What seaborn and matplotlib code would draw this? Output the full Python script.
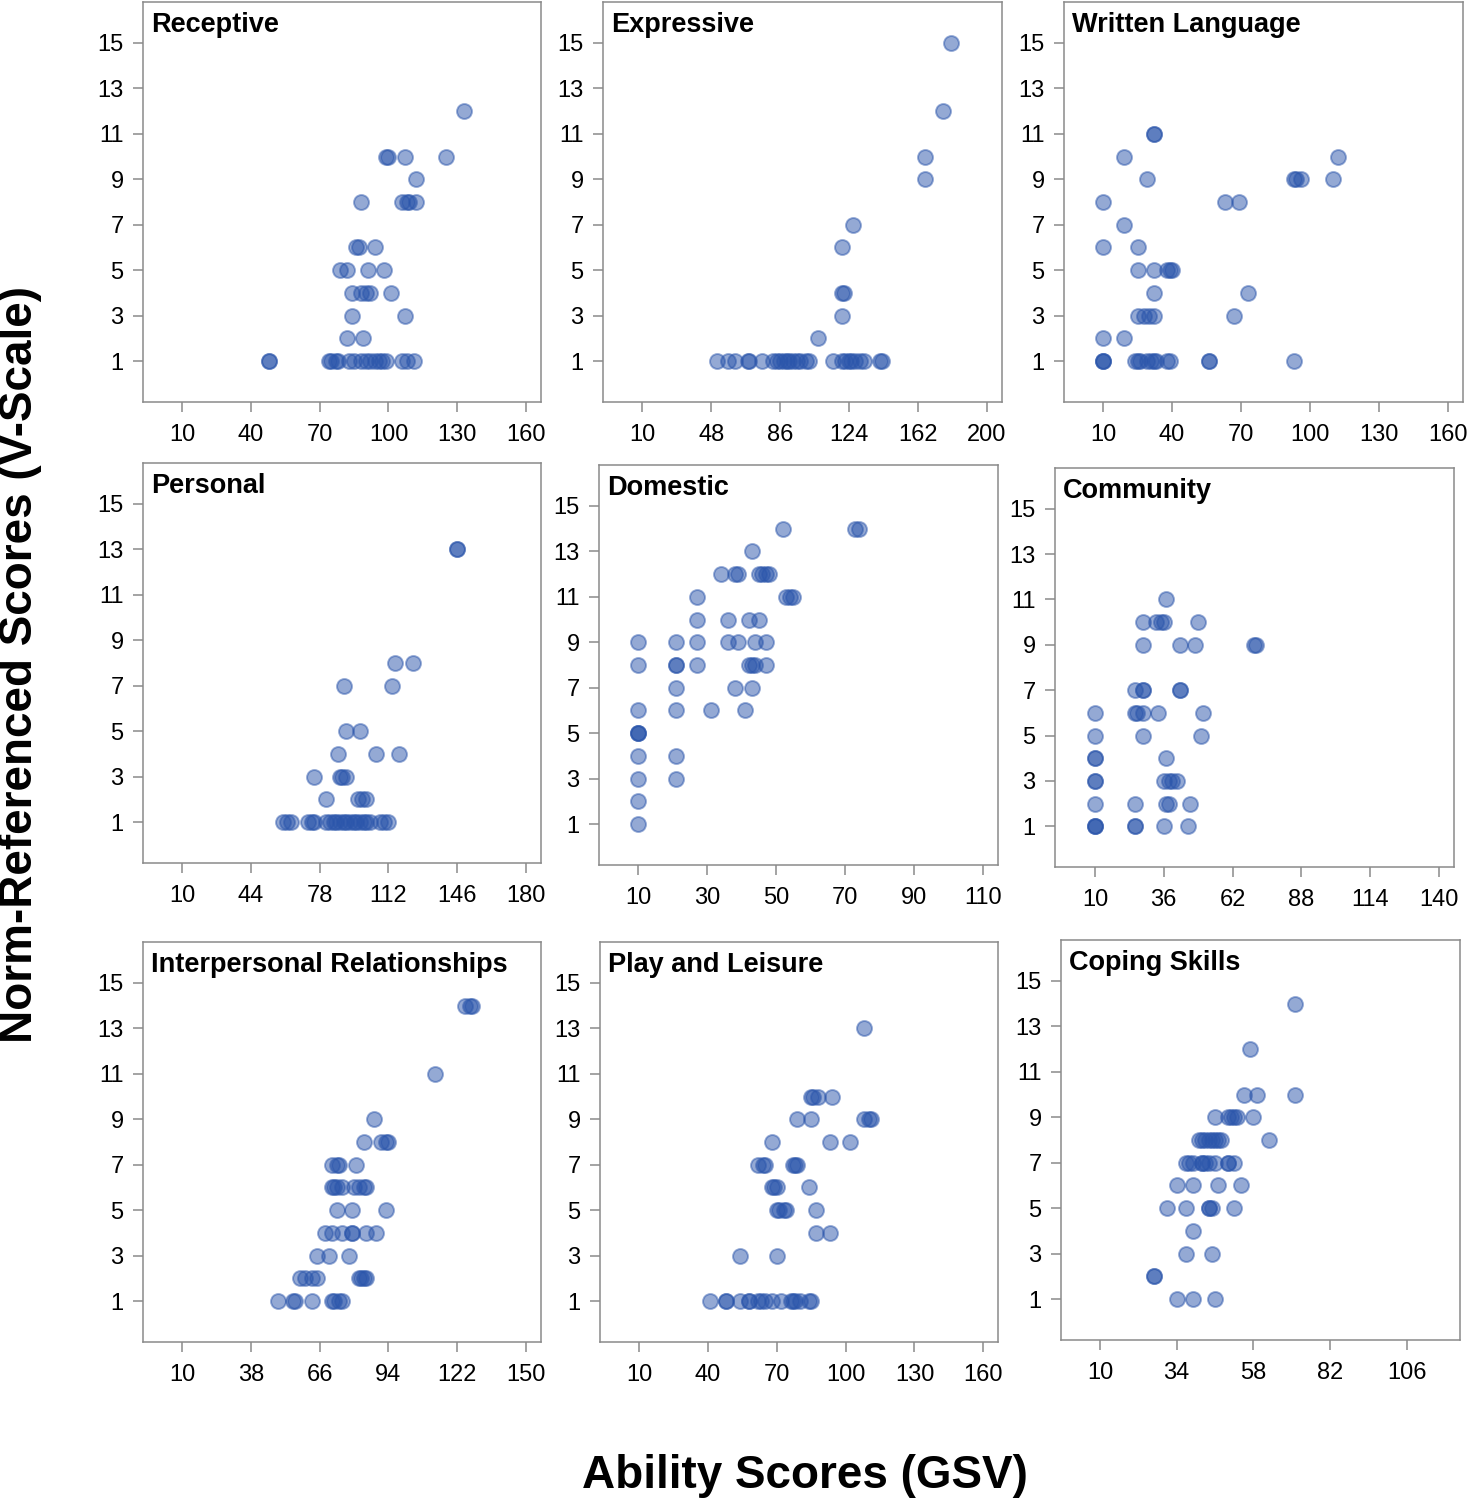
import pandas as pd
import matplotlib
matplotlib.use("Agg")
import matplotlib.pyplot as plt
import seaborn as sns

# ---- Data ----
receptive_x = [133, 99, 100, 107, 125, 112, 88, 106, 108, 109, 112, 86, 87, 94,
               79, 82, 91, 98, 84, 88, 90, 92, 101, 84, 107, 82, 89,
               48, 48, 74, 75, 77, 78, 83, 85, 88, 90, 92, 94, 96, 97, 99, 106, 108, 111]
receptive_y = [12, 10, 10, 10, 10, 9, 8, 8, 8, 8, 8, 6, 6, 6,
               5, 5, 5, 5, 4, 4, 4, 4, 4, 3, 3, 2, 2,
               1, 1, 1, 1, 1, 1, 1, 1, 1, 1, 1, 1, 1, 1, 1, 1, 1, 1]

expressive_x = [180, 176, 166, 166, 126, 120, 120, 121, 120, 107,
                51, 57, 61, 68, 69, 76, 82, 84, 86, 88, 90, 91, 93, 95, 97, 100, 102,
                115, 120, 122, 124, 125, 127, 130, 132, 141, 142]
expressive_y = [15, 12, 10, 9, 7, 6, 4, 4, 3, 2,
                1, 1, 1, 1, 1, 1, 1, 1, 1, 1, 1, 1, 1, 1, 1, 1, 1,
                1, 1, 1, 1, 1, 1, 1, 1, 1, 1]

written_x = [32, 32, 19, 112, 29, 93, 94, 96, 110, 10, 63, 69, 19, 10, 25,
             25, 32, 38, 39, 40, 32, 73, 25, 28, 30, 32, 67, 10, 19,
             10, 10, 10, 24, 25, 26, 29, 31, 32, 33, 38, 39, 56, 56, 93]
written_y = [11, 11, 10, 10, 9, 9, 9, 9, 9, 8, 8, 8, 7, 6, 6,
             5, 5, 5, 5, 5, 4, 4, 3, 3, 3, 3, 3, 2, 2,
             1, 1, 1, 1, 1, 1, 1, 1, 1, 1, 1, 1, 1, 1, 1]

personal_x = [146, 146, 115, 124, 90, 114, 91, 98, 87, 106, 117, 75, 88, 89, 91,
              81, 97, 99, 101,
              60, 62, 64, 72, 74, 75, 81, 83, 85, 86, 88, 90, 91, 93, 95, 96, 98,
              100, 101, 103, 108, 110, 112]
personal_y = [13, 13, 8, 8, 7, 7, 5, 5, 4, 4, 4, 3, 3, 3, 3,
              2, 2, 2, 2,
              1, 1, 1, 1, 1, 1, 1, 1, 1, 1, 1, 1, 1, 1, 1, 1, 1,
              1, 1, 1, 1, 1, 1]

domestic_x = [52, 73, 74, 43, 34, 38, 39, 45, 46, 47, 48, 27, 53, 54, 55,
              27, 36, 42, 45, 10, 21, 27, 36, 39, 44, 47,
              10, 21, 21, 27, 42, 43, 44, 47, 21, 38, 43, 10, 21, 31, 41,
              10, 10, 10, 10, 21, 10, 21, 10, 10]
domestic_y = [14, 14, 14, 13, 12, 12, 12, 12, 12, 12, 12, 11, 11, 11, 11,
              10, 10, 10, 10, 9, 9, 9, 9, 9, 9, 9,
              8, 8, 8, 8, 8, 8, 8, 8, 7, 7, 7, 6, 6, 6, 6,
              5, 5, 5, 4, 4, 3, 3, 2, 1]

community_x = [37, 28, 33, 35, 36, 49, 28, 42, 48, 70, 71, 25, 28, 28, 42, 42,
               10, 25, 26, 28, 34, 51, 10, 28, 50, 10, 10, 37,
               10, 10, 36, 38, 39, 41, 10, 25, 37, 38, 46,
               10, 10, 10, 25, 25, 36, 45]
community_y = [11, 10, 10, 10, 10, 10, 9, 9, 9, 9, 9, 7, 7, 7, 7, 7,
               6, 6, 6, 6, 6, 6, 5, 5, 5, 4, 4, 4,
               3, 3, 3, 3, 3, 3, 2, 2, 2, 2, 2,
               1, 1, 1, 1, 1, 1, 1]

interpersonal_x = [125, 127, 128, 113, 88, 84, 91, 93, 94, 71, 73, 74, 81,
                   71, 72, 73, 75, 80, 82, 84, 85, 73, 79, 93,
                   68, 71, 75, 79, 79, 85, 89, 65, 70, 78,
                   58, 60, 63, 65, 82, 83, 84, 85, 49, 55, 56, 63, 71, 72, 74, 75]
interpersonal_y = [14, 14, 14, 11, 9, 8, 8, 8, 8, 7, 7, 7, 7,
                   6, 6, 6, 6, 6, 6, 6, 6, 5, 5, 5,
                   4, 4, 4, 4, 4, 4, 4, 3, 3, 3,
                   2, 2, 2, 2, 2, 2, 2, 2, 1, 1, 1, 1, 1, 1, 1, 1]

play_x = [108, 85, 86, 88, 94, 79, 85, 108, 110, 111, 68, 93, 102,
          62, 64, 65, 77, 78, 79, 68, 69, 70, 84, 70, 71, 73, 74, 87,
          87, 93, 54, 70,
          41, 48, 48, 54, 58, 58, 62, 63, 65, 68, 72, 76, 77, 78, 80, 84, 85]
play_y = [13, 10, 10, 10, 10, 9, 9, 9, 9, 9, 8, 8, 8,
          7, 7, 7, 7, 7, 7, 6, 6, 6, 6, 5, 5, 5, 5, 5,
          4, 4, 3, 3,
          1, 1, 1, 1, 1, 1, 1, 1, 1, 1, 1, 1, 1, 1, 1, 1, 1]

coping_x = [71, 57, 55, 59, 71, 46, 50, 51, 52, 53, 58,
            41, 42, 43, 44, 45, 46, 47, 48, 63,
            37, 38, 39, 42, 42, 43, 44, 46, 50, 50, 52,
            34, 39, 47, 54, 31, 37, 44, 44, 45, 52,
            39, 37, 45, 27, 27, 34, 39, 46]
coping_y = [14, 12, 10, 10, 10, 9, 9, 9, 9, 9, 9,
            8, 8, 8, 8, 8, 8, 8, 8, 8,
            7, 7, 7, 7, 7, 7, 7, 7, 7, 7, 7,
            6, 6, 6, 6, 5, 5, 5, 5, 5, 5,
            4, 3, 3, 2, 2, 1, 1, 1]

panel_names = ["Receptive", "Expressive", "Written Language",
               "Personal", "Domestic", "Community",
               "Interpersonal Relationships", "Play and Leisure", "Coping Skills"]
panel_x = [receptive_x, expressive_x, written_x, personal_x, domestic_x,
           community_x, interpersonal_x, play_x, coping_x]
panel_y = [receptive_y, expressive_y, written_y, personal_y, domestic_y,
           community_y, interpersonal_y, play_y, coping_y]

x_ticks = [[10, 40, 70, 100, 130, 160],
           [10, 48, 86, 124, 162, 200],
           [10, 40, 70, 100, 130, 160],
           [10, 44, 78, 112, 146, 180],
           [10, 30, 50, 70, 90, 110],
           [10, 36, 62, 88, 114, 140],
           [10, 38, 66, 94, 122, 150],
           [10, 40, 70, 100, 130, 160],
           [10, 34, 58, 82, 106]]
y_ticks = [1, 3, 5, 7, 9, 11, 13, 15]

# ---- Layout (pixel boxes of each panel: left, top, right, bottom) ----
x_limits = [(-7, 166.5), (-11.7, 208.3), (-7, 166.5), (-9.3, 187.4), (-1.4, 114.4),
            (-5.1, 145.7), (-5.9, 156.1), (-7, 166.4), (-2.2, 122.7)]
boxes = [(143, 2, 541, 402), (603, 2, 1002, 402), (1064, 2, 1463, 402),
         (143, 463, 541, 863), (599, 465, 998, 865), (1055, 468, 1454, 867),
         (143, 942, 541, 1342), (600, 942, 998, 1342), (1061, 940, 1460, 1340)]

sns.set_style("white")
plt.rcParams["font.family"] = ["Liberation Sans", "DejaVu Sans"]
plt.rcParams["text.color"] = "black"

W, H = 1469, 1500
fig = plt.figure(figsize=(W / 100, H / 100), dpi=100)

for i, name in enumerate(panel_names):
    x0, y0, x1, y1 = boxes[i]
    ax = fig.add_axes([x0 / W, 1 - y1 / H, (x1 - x0) / W, (y1 - y0) / H])
    df = pd.DataFrame({"GSV": panel_x[i], "V": panel_y[i]})
    sns.scatterplot(data=df, x="GSV", y="V", ax=ax, s=115, color="#2a55ab",
                    alpha=0.5, edgecolor="#2a55ab", linewidth=1.4)
    ax.set_xlim(*x_limits[i])
    ax.set_ylim(-0.8, 16.8)
    ax.set_xticks(x_ticks[i])
    ax.set_yticks(y_ticks)
    ax.set_xlabel("")
    ax.set_ylabel("")
    for sp in ax.spines.values():
        sp.set_color("#8a8a8a")
        sp.set_linewidth(1.1)
    ax.tick_params(direction="out", length=7, width=1.1, color="#8a8a8a",
                   labelsize=17, labelcolor="black", pad=7, left=True, bottom=True)
    ax.tick_params(axis="x", pad=9)
    ax.text(0.02, 0.975, name, transform=ax.transAxes, ha="left", va="top",
            fontsize=19.5, fontweight="bold", color="black")

fig.text(0.0135, 0.557, "Norm-Referenced Scores (V-Scale)", rotation=90,
         ha="center", va="center", fontsize=33, fontweight="bold", color="black")
fig.text(0.548, 0.016, "Ability Scores (GSV)", ha="center", va="center",
         fontsize=33, fontweight="bold", color="black")

fig.savefig("out.png", dpi=100)
